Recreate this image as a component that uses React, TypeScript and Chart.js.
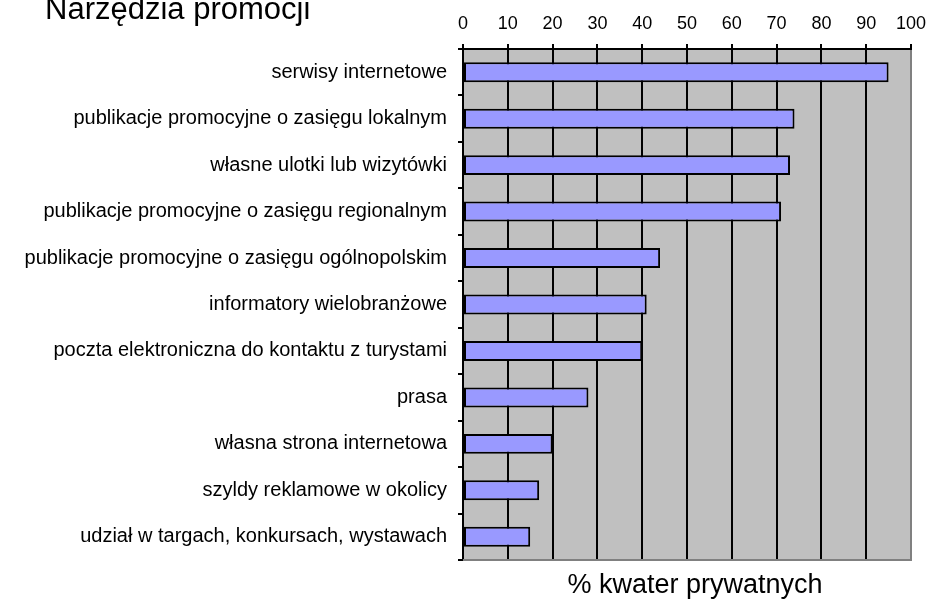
import React, { useEffect, useRef } from "react";
import { Chart, registerables } from "chart.js";

Chart.register(...registerables);

const chartTitle = "Narzędzia promocji";
const axisTitle = "% kwater prywatnych";

const categories = [
  "serwisy internetowe",
  "publikacje promocyjne o zasięgu lokalnym",
  "własne ulotki lub wizytówki",
  "publikacje promocyjne o zasięgu regionalnym",
  "publikacje promocyjne o zasięgu ogólnopolskim",
  "informatory wielobranżowe",
  "poczta elektroniczna do kontaktu z turystami",
  "prasa",
  "własna strona internetowa",
  "szyldy reklamowe w okolicy",
  "udział w targach, konkursach, wystawach",
];

const values = [95, 74, 73, 71, 44, 41, 40, 28, 20, 17, 15];

const axisMin = 0;
const axisMax = 100;
const axisStep = 10;

const FONT = "'Liberation Sans', Arial, sans-serif";

export default function App() {
  const ref = useRef<HTMLCanvasElement | null>(null);

  useEffect(() => {
    const canvas = ref.current;
    if (!canvas) return;

    const decor = {
      id: "decor",
      beforeDraw(chart: any) {
        const { ctx, chartArea: a } = chart;
        ctx.save();
        ctx.fillStyle = "#C0C0C0";
        ctx.fillRect(a.left, a.top, a.right - a.left, a.bottom - a.top);
        ctx.restore();
      },
      afterDraw(chart: any) {
        const { ctx, chartArea: a } = chart;
        ctx.save();
        ctx.strokeStyle = "#808080";
        ctx.lineWidth = 2;
        ctx.beginPath();
        ctx.moveTo(a.left, a.bottom);
        ctx.lineTo(a.right + 1, a.bottom);
        ctx.stroke();
        ctx.fillStyle = "#000";
        ctx.textBaseline = "alphabetic";
        ctx.textAlign = "left";
        ctx.font = `31px ${FONT}`;
        ctx.fillText(chartTitle, 45, 18.5);
        ctx.textAlign = "center";
        ctx.font = `27px ${FONT}`;
        ctx.fillText(axisTitle, 695, 593);
        ctx.restore();
      },
    };

    const chart = new Chart(canvas, {
      type: "bar",
      data: {
        labels: categories,
        datasets: [
          {
            data: values,
            backgroundColor: "#9999FF",
            borderColor: "#000000",
            borderWidth: 2,
            borderSkipped: false,
            barPercentage: 0.43,
            categoryPercentage: 1,
          },
        ],
      },
      options: {
        indexAxis: "y",
        responsive: false,
        animation: false,
        layout: { padding: { left: 0, right: 22, top: 0, bottom: 40 } },
        plugins: {
          legend: { display: false },
          tooltip: { enabled: false },
          title: { display: false },
        },
        scales: {
          x: {
            type: "linear",
            position: "top",
            min: axisMin,
            max: axisMax,
            afterFit: (s: any) => {
              s.height = 49;
            },
            ticks: {
              stepSize: axisStep,
              color: "#000",
              font: { family: FONT, size: 18 },
              padding: 9,
            },
            grid: {
              color: (c: any) => (c.tick && c.tick.value === axisMax ? "#808080" : "#000"),
              tickColor: "#000",
              lineWidth: 2,
              tickLength: 5,
            },
            border: { display: true, color: "#000", width: 2 },
          },
          y: {
            type: "category",
            position: "left",
            afterFit: (s: any) => {
              s.width = 463;
            },
            ticks: {
              color: "#000",
              font: { family: FONT, size: 20 },
              padding: 11,
              autoSkip: false,
            },
            grid: {
              drawOnChartArea: false,
              offset: true,
              color: "#000",
              lineWidth: 2,
              tickLength: 5,
            },
            border: { display: true, color: "#000", width: 2 },
          },
        },
      },
      plugins: [decor],
    } as any);

    return () => chart.destroy();
  }, []);

  return (
    <div style={{ position: "absolute", left: 0, top: 0, width: 935, height: 600 }}>
      <canvas ref={ref} width={935} height={600} />
    </div>
  );
}
